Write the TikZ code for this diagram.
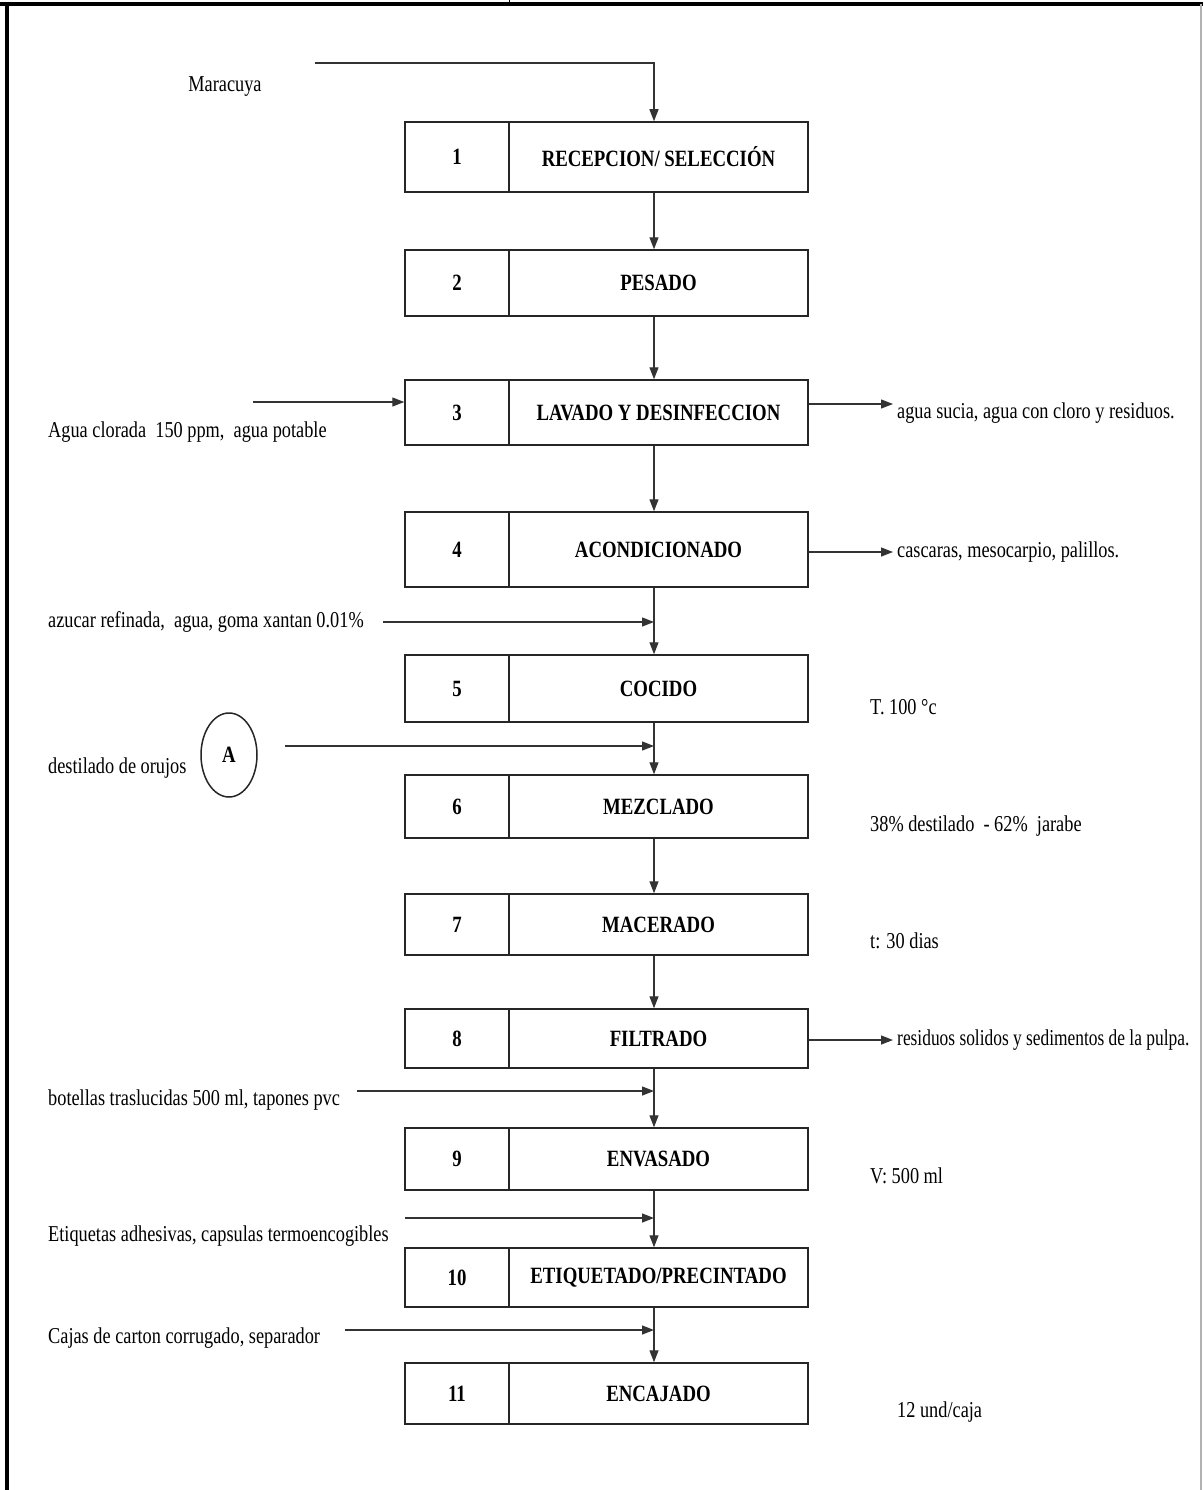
\documentclass[tikz,border=0pt]{standalone}
\usepackage{fontspec}
\usepackage{graphicx}
\setmainfont{Liberation Serif}
\usetikzlibrary{arrows.meta,shapes.geometric}
% text set a little taller than wide
\newcommand{\tall}[1]{\scalebox{1}[1.24]{#1}}

\begin{document}
\begin{tikzpicture}[x=1pt,y=-1pt,
  every node/.style={font=\fontsize{18.3}{22}\selectfont, inner sep=0pt},
  cell/.style={draw=black!85, line width=1.5pt, minimum height=#1},
  numcell/.style={cell=#1, minimum width=104pt, font=\fontsize{18.8}{22}\selectfont\bfseries},
  namecell/.style={cell=#1, minimum width=299pt, font=\fontsize{18.8}{22}\selectfont\bfseries},
  flow/.style={draw=black!80, line width=1.3pt, -{Triangle[length=12pt,width=9pt]}},
  note/.style={anchor=west},
]
\useasboundingbox (0,0) rectangle (1203,1490);
\fill[white] (0,0) rectangle (1203,1490);

% page frame
\draw[line width=3.5pt] (0,4) -- (1203,4);
\draw[line width=4pt] (7,2) -- (7,1490);
\draw[line width=1pt] (509,0) -- (509,4);
\draw[black!30, line width=1.5pt] (1201,4) -- (1201,1490);

% process steps
\node[numcell=70pt]  (k1)  at (457,157)    {\tall{1}};
\node[namecell=70pt] (n1)  at (658.5,157)  {\tall{RECEPCION/ SELECCIÓN}};
\node[numcell=66pt]  (k2)  at (457,283)    {\tall{2}};
\node[namecell=66pt] (n2)  at (658.5,283)  {\tall{PESADO}};
\node[numcell=65pt]  (k3)  at (457,412.5)  {\tall{3}};
\node[namecell=65pt] (n3)  at (658.5,412.5){\tall{LAVADO Y DESINFECCION}};
\node[numcell=75pt]  (k4)  at (457,549.5)  {\tall{4}};
\node[namecell=75pt] (n4)  at (658.5,549.5){\tall{ACONDICIONADO}};
\node[numcell=67pt]  (k5)  at (457,688.5)  {\tall{5}};
\node[namecell=67pt] (n5)  at (658.5,688.5){\tall{COCIDO}};
\node[numcell=63pt]  (k6)  at (457,806.5)  {\tall{6}};
\node[namecell=63pt] (n6)  at (658.5,806.5){\tall{MEZCLADO}};
\node[numcell=61pt]  (k7)  at (457,924.5)  {\tall{7}};
\node[namecell=61pt] (n7)  at (658.5,924.5){\tall{MACERADO}};
\node[numcell=59pt]  (k8)  at (457,1038.5) {\tall{8}};
\node[namecell=59pt] (n8)  at (658.5,1038.5){\tall{FILTRADO}};
\node[numcell=62pt]  (k9)  at (457,1159)   {\tall{9}};
\node[namecell=62pt] (n9)  at (658.5,1159) {\tall{ENVASADO}};
\node[numcell=59pt]  (k10) at (457,1277.5) {\tall{10}};
\node[namecell=59pt] (n10) at (658.5,1277.5){\tall{ETIQUETADO/PRECINTADO}};
\node[numcell=61pt]  (k11) at (457,1393.5) {\tall{11}};
\node[namecell=61pt] (n11) at (658.5,1393.5){\tall{ENCAJADO}};

% main flow line
\coordinate (ax) at (654,0);
\draw[flow] (n1.south -| ax) -- (n2.north -| ax);
\draw[flow] (n2.south -| ax) -- (n3.north -| ax);
\draw[flow] (n3.south -| ax) -- (n4.north -| ax);
\draw[flow] (n4.south -| ax) -- (n5.north -| ax);
\draw[flow] (n5.south -| ax) -- (n6.north -| ax);
\draw[flow] (n6.south -| ax) -- (n7.north -| ax);
\draw[flow] (n7.south -| ax) -- (n8.north -| ax);
\draw[flow] (n8.south -| ax) -- (n9.north -| ax);
\draw[flow] (n9.south -| ax) -- (n10.north -| ax);
\draw[flow] (n10.south -| ax) -- (n11.north -| ax);

% raw material
\node (lm) at (225,87) {\tall{Maracuya}};
\coordinate (i1) at (315,63);
\draw[flow] (i1) -| (n1.north -| ax);

% inputs from the left
\node[note] (l3) at (48,432) {\tall{Agua clorada\ \ 150 ppm,\ \ agua potable}};
\coordinate (i3) at (253,402);
\draw[flow] (i3) -- (i3 -| k3.west);

\node[note] (l5) at (48,622) {\tall{azucar refinada,\ \ agua, goma xantan 0.01\%}};
\coordinate (i5) at (383,622);
\draw[flow] (i5) -- (i5 -| ax);

\node[note] (l6) at (48,768) {\tall{destilado de orujos}};
\node[draw=black!85, line width=1.5pt, ellipse, minimum width=56pt, minimum height=84pt,
      font=\fontsize{18.8}{22}\selectfont\bfseries] (A) at (229,755) {\tall{A}};
\coordinate (i6) at (285,746);
\draw[flow] (i6) -- (i6 -| ax);

\node[note] (l9) at (48,1100) {\tall{botellas traslucidas 500 ml, tapones pvc}};
\coordinate (i9) at (357,1091);
\draw[flow] (i9) -- (i9 -| ax);

\node[note] (l10) at (48,1236) {\tall{Etiquetas adhesivas, capsulas termoencogibles}};
\coordinate (i10) at (405,1218);
\draw[flow] (i10) -- (i10 -| ax);

\node[note] (l11) at (48,1338) {\tall{Cajas de carton corrugado, separador}};
\coordinate (i11) at (345,1330);
\draw[flow] (i11) -- (i11 -| ax);

% outputs to the right
\coordinate (o3) at (893,404);
\draw[flow] (o3 -| n3.east) -- (o3);
\node[note] (r3) at (897,413) {\tall{agua sucia, agua con cloro y residuos.}};

\coordinate (o4) at (893,552);
\draw[flow] (o4 -| n4.east) -- (o4);
\node[note] (r4) at (897,552) {\tall{cascaras, mesocarpio, palillos.}};

\coordinate (o8) at (893,1040);
\draw[flow] (o8 -| n8.east) -- (o8);
\node[note] (r8) at (897,1040) {\scalebox{0.95}[1.24]{residuos solidos y sedimentos de la pulpa.}};

% process conditions
\node[note] (c5)  at (870,707)  {\tall{T. 100 °c}};
\node[note] (c6)  at (870,826)  {\tall{38\% destilado\ \ - 62\%\ \ jarabe}};
\node[note] (c7)  at (870,941)  {\tall{t: 30 dias}};
\node[note] (c9)  at (870,1176) {\tall{V: 500 ml}};
\node[note] (c11) at (897,1412) {\tall{12 und/caja}};
\end{tikzpicture}
\end{document}
